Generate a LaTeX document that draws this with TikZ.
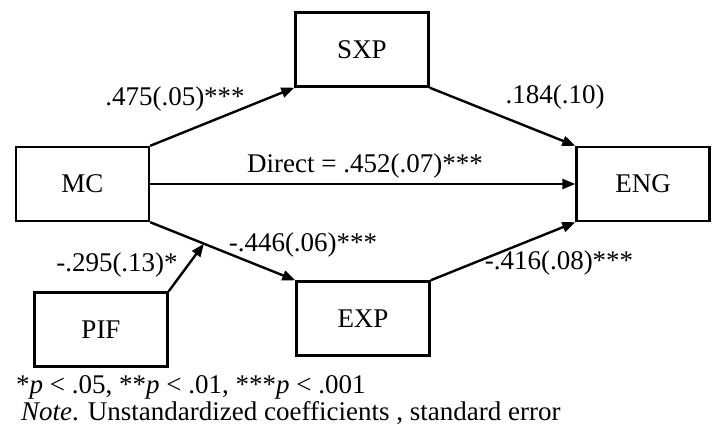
\documentclass[tikz,border=0pt]{standalone}
\usepackage{fontspec}
\setmainfont{Liberation Serif}
\usetikzlibrary{arrows.meta,calc}
\begin{document}
\begin{tikzpicture}[x=1pt,y=-1pt,
  box/.style={draw,line width=2.4pt,minimum width=133pt,minimum height=74pt,inner sep=0pt,font=\fontsize{27}{30}\selectfont},
  lbl/.style={inner sep=0pt,font=\fontsize{27}{30}\selectfont},
  conn/.style={line width=2.4pt,-{Triangle[length=13pt,width=10pt]}}]
\useasboundingbox (0,0) rectangle (714,441);
\node[box] (mc) at (82.5,184) {MC};
\node[box] (sxp) at (362,49.5) {SXP};
\node[box] (eng) at (643,184) {ENG};
\node[box] (exp) at (363,318.5) {EXP};
\node[box] (pif) at (101,329.5) {PIF};
\draw[conn] (mc.north east) -- (sxp.south west);
\draw[conn] (sxp.south east) -- (eng.north west);
\draw[conn] (mc.east) -- (eng.west);
\draw[conn] (mc.south east) -- (exp.north west);
\draw[conn] (exp.north east) -- (eng.south west);
\coordinate (mod) at ($(mc.south east)!0.37!(exp.north west)$);
\draw[conn] (pif.north east) -- (mod);
\node[lbl] (l1) at (175,99) {.475(.05)***};
\node[lbl] (l2) at (555,97) {.184(.10)};
\node[lbl] (l3) at (365,166) {Direct = .452(.07)***};
\node[lbl] (l4) at (303,245) {-.446(.06)***};
\node[lbl] (l5) at (559,263) {-.416(.08)***};
\node[lbl] (l6) at (117,265) {-.295(.13)*};
\node[lbl,anchor=west] (f1) at (16,387) {*\textit{p} < .05, **\textit{p} < .01, ***\textit{p} < .001};
\node[lbl,anchor=west] (f2) at (21,413) {\textit{Note}. Unstandardized coefficients , standard error};
\end{tikzpicture}
\end{document}
